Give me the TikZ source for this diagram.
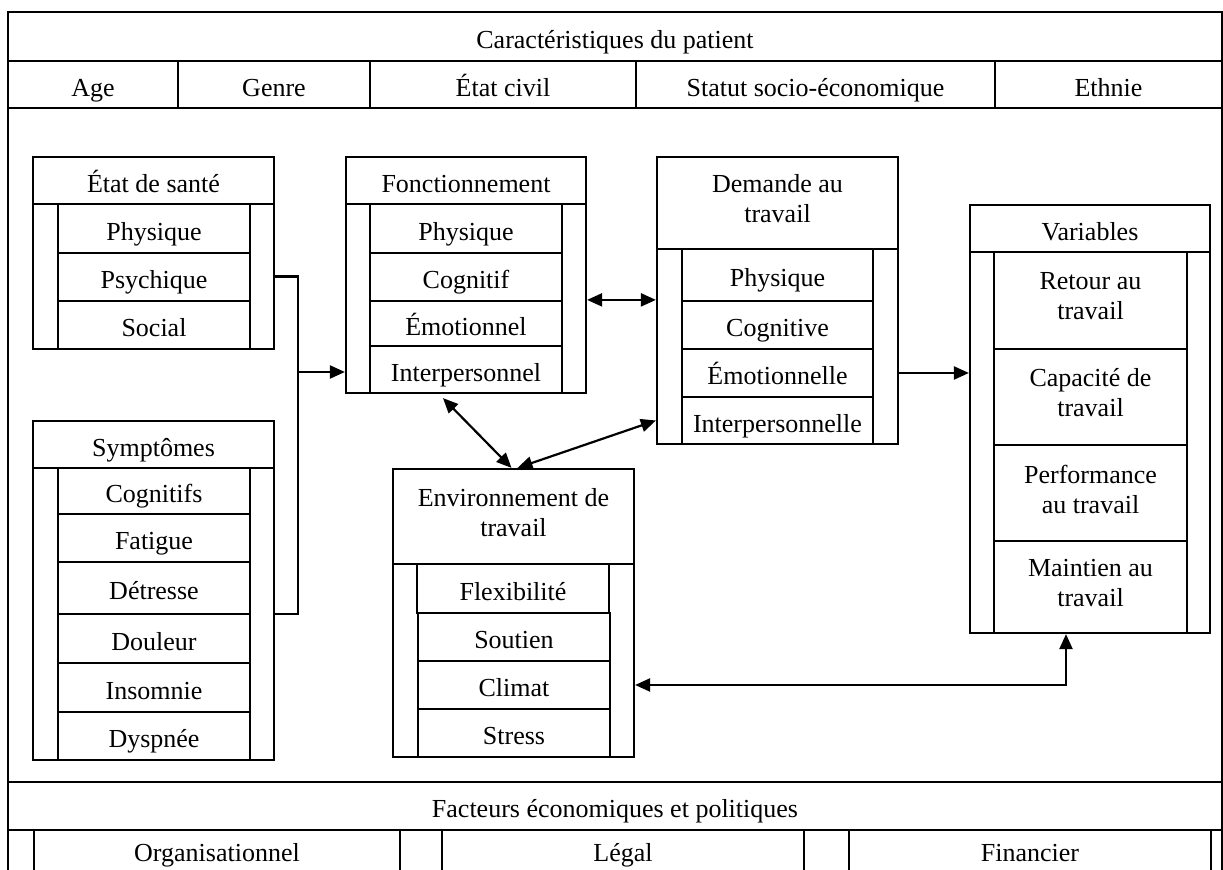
\documentclass[tikz,border=0pt]{standalone}
\usepackage{fontspec}
\setmainfont{Liberation Serif}
\usetikzlibrary{fit,arrows.meta,calc}
\begin{document}
\begin{tikzpicture}[x=0.5pt,y=-0.5pt,
  box/.style={draw, line width=1.1pt, inner sep=0pt},
  t1/.style={inner sep=0pt, anchor=base, yshift=-6pt, font=\fontsize{13}{15}\selectfont},
  t2/.style={inner sep=0pt, align=center, yshift=2pt, font=\fontsize{13}{15}\selectfont},
  frame/.style={line width=1.1pt},
  conn/.style={line width=1.1pt},
  arr/.style={line width=1.1pt, -{Triangle[length=7.5pt,width=6.5pt]}},
  darr/.style={line width=1.1pt, {Triangle[length=7.5pt,width=6.5pt]}-{Triangle[length=7.5pt,width=6.5pt]}}]
\useasboundingbox (0,0) rectangle (1223,870);

% ---------- header ----------
\node[box, fit={(8,12)(1222,61)}] (hdr) {};
\node[box, fit={(8,61)(178,108)}] (age) {};
\node[box, fit={(178,61)(370,108)}] (genre) {};
\node[box, fit={(370,61)(636,108)}] (civil) {};
\node[box, fit={(636,61)(995,108)}] (statut) {};
\node[box, fit={(995,61)(1222,108)}] (ethnie) {};
\node[t1] (hdr-t) at (hdr) {Caractéristiques du patient};
\node[t1] (age-t) at (age) {Age};
\node[t1] (genre-t) at (genre) {Genre};
\node[t1] (civil-t) at (civil) {État civil};
\node[t1] (statut-t) at (statut) {Statut socio-économique};
\node[t1] (ethnie-t) at (ethnie) {Ethnie};
\draw[frame] (8,108) -- (8,870);
\draw[frame] (1222,108) -- (1222,870);

% ---------- footer ----------
\node[box, fit={(8,782)(1222,830)}] (fac) {};
\node[t1] (fac-t) at (fac) {Facteurs économiques et politiques};
\foreach \xx in {34,400,442,804,849,1211} \draw[frame] (\xx,830) -- (\xx,870);
\node[t1, yshift=6pt] (orga) at (217,862) {Organisationnel};
\node[t1, yshift=6pt] (legal) at (623,862) {Légal};
\node[t1, yshift=6pt] (fin) at (1030,862) {Financier};

% ---------- État de santé ----------
\node[box, fit={(33,157)(274,204)}] (estitle) {};
\node[box, fit={(33,204)(274,349)}] (esbody) {};
\node[box, fit={(58,204)(250,253)}] (es1) {};
\node[box, fit={(58,253)(250,301)}] (es2) {};
\node[box, fit={(58,301)(250,349)}] (es3) {};
\node[t1] (estitle-t) at (estitle) {État de santé};
\node[t1] (es1-t) at (es1) {Physique};
\node[t1] (es2-t) at (es2) {Psychique};
\node[t1] (es3-t) at (es3) {Social};

% ---------- Symptômes ----------
\node[box, fit={(33,421)(274,468)}] (sytitle) {};
\node[box, fit={(33,468)(274,760)}] (sybody) {};
\node[box, fit={(58,468)(250,514)}] (sy1) {};
\node[box, fit={(58,514)(250,562)}] (sy2) {};
\node[box, fit={(58,562)(250,614)}] (sy3) {};
\node[box, fit={(58,614)(250,663)}] (sy4) {};
\node[box, fit={(58,663)(250,712)}] (sy5) {};
\node[box, fit={(58,712)(250,760)}] (sy6) {};
\node[t1] (sytitle-t) at (sytitle) {Symptômes};
\node[t1] (sy1-t) at (sy1) {Cognitifs};
\node[t1] (sy2-t) at (sy2) {Fatigue};
\node[t1] (sy3-t) at (sy3) {Détresse};
\node[t1] (sy4-t) at (sy4) {Douleur};
\node[t1] (sy5-t) at (sy5) {Insomnie};
\node[t1] (sy6-t) at (sy6) {Dyspnée};

% ---------- Fonctionnement ----------
\node[box, fit={(346,157)(586,204)}] (fotitle) {};
\node[box, fit={(346,204)(586,393)}] (fobody) {};
\node[box, fit={(370,204)(562,253)}] (fo1) {};
\node[box, fit={(370,253)(562,301)}] (fo2) {};
\node[box, fit={(370,301)(562,346)}] (fo3) {};
\node[box, fit={(370,346)(562,393)}] (fo4) {};
\node[t1] (fotitle-t) at (fotitle) {Fonctionnement};
\node[t1] (fo1-t) at (fo1) {Physique};
\node[t1] (fo2-t) at (fo2) {Cognitif};
\node[t1] (fo3-t) at (fo3) {Émotionnel};
\node[t1] (fo4-t) at (fo4) {Interpersonnel};

% ---------- Demande au travail ----------
\node[box, fit={(657,157)(898,249)}] (detitle) {};
\node[box, fit={(657,249)(898,444)}] (debody) {};
\node[box, fit={(682,249)(873,301)}] (de1) {};
\node[box, fit={(682,301)(873,349)}] (de2) {};
\node[box, fit={(682,349)(873,397)}] (de3) {};
\node[box, fit={(682,397)(873,444)}] (de4) {};
\node[t2] (detitle-t) at (detitle) {Demande au\\travail};
\node[t1] (de1-t) at (de1) {Physique};
\node[t1] (de2-t) at (de2) {Cognitive};
\node[t1] (de3-t) at (de3) {Émotionnelle};
\node[t1] (de4-t) at (de4) {Interpersonnelle};

% ---------- Environnement de travail ----------
\node[box, fit={(393,469)(634,564)}] (entitle) {};
\node[box, fit={(393,564)(634,757)}] (enbody) {};
\node[box, fit={(417,564)(609,613)}] (en1) {};
\node[box, fit={(418,613)(610,661)}] (en2) {};
\node[box, fit={(418,661)(610,709)}] (en3) {};
\node[box, fit={(418,709)(610,757)}] (en4) {};
\node[t2] (entitle-t) at (entitle) {Environnement de\\travail};
\node[t1] (en1-t) at (en1) {Flexibilité};
\node[t1] (en2-t) at (en2) {Soutien};
\node[t1] (en3-t) at (en3) {Climat};
\node[t1] (en4-t) at (en4) {Stress};

% ---------- Variables ----------
\node[box, fit={(970,205)(1210,252)}] (vatitle) {};
\node[box, fit={(970,252)(1210,633)}] (vabody) {};
\node[box, fit={(994,252)(1187,349)}] (va1) {};
\node[box, fit={(994,349)(1187,445)}] (va2) {};
\node[box, fit={(994,445)(1187,541)}] (va3) {};
\node[box, fit={(994,541)(1187,633)}] (va4) {};
\node[t1] (vatitle-t) at (vatitle) {Variables};
\node[t2] (va1-t) at (va1) {Retour au\\travail};
\node[t2] (va2-t) at (va2) {Capacité de\\travail};
\node[t2] (va3-t) at (va3) {Performance\\au travail};
\node[t2] (va4-t) at (va4) {Maintien au\\travail};

% ---------- connectors ----------
\coordinate (jn) at (298,372);
\draw[conn] (esbody.east) -| (jn);
\draw[conn] (sybody.east) -| (jn);
\draw[arr] (jn) -- (jn -| fobody.west);
\draw[darr] (fo3.north -| fobody.east) -- (fo3.north -| debody.west);
\draw[arr] (de3 -| debody.east) -- (de3 -| vabody.west);
\draw[darr] ([xshift=-11.5pt,yshift=-2pt]fobody.south) -- ([xshift=-1pt]entitle.north);
\draw[darr] (de4 -| debody.west) -- ([xshift=2pt]entitle.north);
\draw[darr] (en3 -| enbody.east) -| ([xshift=-12pt]vabody.south);
\end{tikzpicture}
\end{document}
